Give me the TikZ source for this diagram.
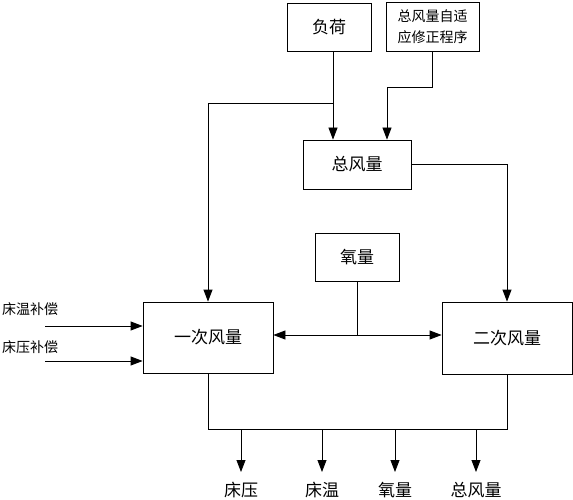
\documentclass[tikz,border=0pt]{standalone}
\usepackage{fontspec}
\newfontfamily\cjk{Noto Sans CJK SC}
\usetikzlibrary{arrows.meta}
\begin{document}
\begin{tikzpicture}[x=1pt,y=-1pt,line width=0.8pt,
  blk/.style={draw,inner sep=0pt,font=\cjk\fontsize{17}{19}\selectfont},
  sml/.style={inner sep=0pt,font=\cjk\fontsize{14}{21}\selectfont,align=center},
  lab/.style={inner sep=0pt,font=\cjk\fontsize{17}{19}\selectfont},
  arr/.style={-{Triangle[length=12pt,width=9pt]}}]
\useasboundingbox (0,0) rectangle (573,500);
% boxes
\node[blk,minimum width=84,minimum height=48](fuhe)at(329,27){负荷};
\node[blk,sml,draw,minimum width=93,minimum height=49](zsy)at(432.5,26.5){总风量自适\\应修正程序};
\node[blk,minimum width=108,minimum height=49](zfl)at(357,164.5){总风量};
\node[blk,minimum width=84,minimum height=48](yl)at(357,257){氧量};
\node[blk,minimum width=130,minimum height=71](ycfl)at(208,337.5){一次风量};
\node[blk,minimum width=130,minimum height=72](ecfl)at(507,338){二次风量};
\node[sml](cw)at(30,309){床温补偿};
\node[sml](cy)at(30,347){床压补偿};
% upper connectors
\coordinate(br)at(333,103);
\coordinate(k)at(387,87);
\draw[arr](fuhe.south-|br)--(zfl.north-|br);
\draw[arr](br)-|(ycfl);
\draw[arr](zsy)|-(k)--(zfl.north-|k);
\draw[arr](zfl)-|(ecfl);
% oxygen
\coordinate(j)at(357,335);
\draw(yl)--(j);
\draw[arr](j)--(ycfl.east|-j);
\draw[arr](j)--(ecfl.west|-j);
% compensation inputs
\coordinate(a1)at(45,326);
\coordinate(a2)at(45,361);
\draw[arr](a1)--(ycfl.west|-a1);
\draw[arr](a2)--(ycfl.west|-a2);
% outputs
\coordinate(bus)at(0,429);
\draw(ycfl.south)|-(bus-|ecfl.south)--(ecfl.south);
\foreach \x/\t/\n in {241/床压/o1,322/床温/o2,395/氧量/o3,476/总风量/o4}{
  \node[lab](\n)at(\x,490){\t};
  \draw[arr](bus-|\n)--++(0,43);
}
\end{tikzpicture}
\end{document}
